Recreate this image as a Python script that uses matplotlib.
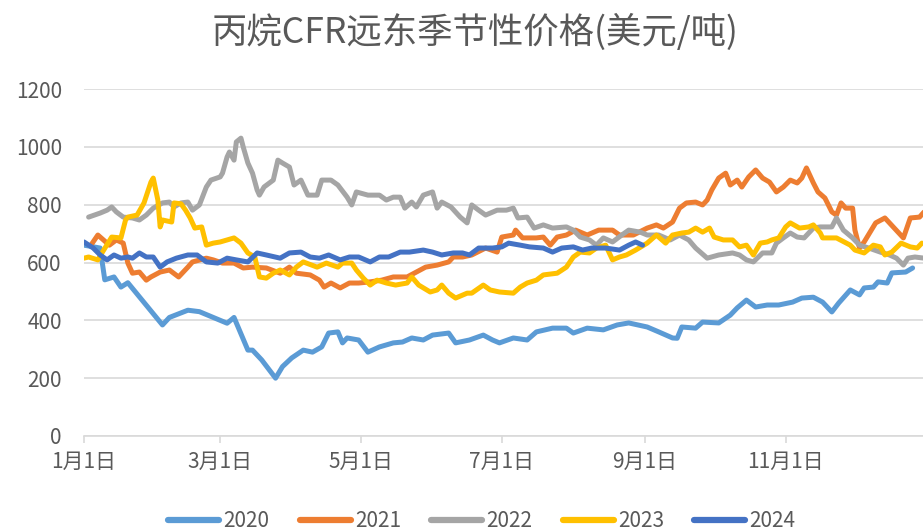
import matplotlib
matplotlib.use('Agg')
import matplotlib.pyplot as plt

plt.rcParams['font.family'] = ['Noto Sans CJK SC', 'DejaVu Sans']

# day of year / price (USD per tonne)
days_2020 = [0, 7, 9, 13, 16, 19, 34, 37, 45, 50, 56, 62, 65, 71, 73, 77, 83, 86, 90, 95,
             99, 103, 106, 110, 112, 114, 119, 123, 128, 134, 138, 142, 147, 151, 158, 161,
             167, 173, 177, 180, 186, 192, 196, 203, 209, 212, 218, 225, 231, 236, 244, 249,
             255, 257, 259, 265, 268, 275, 280, 283, 287, 291, 296, 301, 307, 311, 316, 320,
             324, 327, 332, 336, 338, 342, 344, 348, 350, 356, 359]
price_2020 = [660, 650, 540, 550, 515, 530, 384, 410, 435, 430, 410, 390, 410, 297, 297, 263,
              200, 240, 270, 297, 290, 308, 356, 360, 322, 339, 332, 290, 308, 322, 325, 339,
              332, 349, 356, 322, 332, 349, 332, 322, 339, 332, 360, 373, 373, 356, 373, 367,
              384, 391, 377, 360, 339, 338, 377, 373, 394, 391, 418, 443, 470, 446, 453, 453,
              463, 477, 480, 463, 429, 460, 505, 488, 512, 515, 533, 529, 564, 567, 581]

days_2021 = [3, 6, 11, 14, 17, 19, 21, 24, 27, 29, 33, 37, 41, 45, 47, 53, 56, 60, 65, 69,
             73, 79, 85, 89, 92, 98, 102, 104, 107, 111, 115, 119, 124, 129, 134, 140, 144,
             148, 153, 158, 160, 164, 168, 174, 179, 181, 186, 187, 190, 196, 199, 202, 205,
             209, 213, 218, 223, 229, 232, 238, 244, 248, 251, 255, 258, 261, 265, 268, 270,
             272, 275, 278, 280, 283, 285, 288, 291, 294, 297, 300, 303, 306, 309, 311, 313,
             316, 318, 321, 324, 326, 328, 330, 333, 334, 336, 338, 343, 347, 355, 358, 362, 364]
price_2021 = [660, 695, 660, 678, 667, 598, 563, 567, 539, 550, 567, 574, 550, 584, 602, 615,
              609, 598, 598, 581, 584, 581, 563, 584, 563, 557, 539, 515, 529, 512, 529, 529,
              533, 539, 550, 550, 567, 584, 591, 602, 619, 619, 626, 650, 636, 688, 695, 712,
              685, 685, 688, 660, 688, 695, 712, 695, 712, 712, 695, 695, 719, 730, 719, 740,
              788, 806, 809, 799, 816, 851, 892, 909, 868, 885, 861, 896, 920, 892, 878, 844,
              861, 885, 875, 892, 927, 875, 844, 823, 775, 764, 806, 788, 788, 712, 650, 671,
              737, 754, 685, 754, 757, 775]

days_2022 = [2, 7, 10, 12, 14, 17, 21, 24, 27, 30, 34, 37, 39, 42, 45, 47, 50, 53, 55, 59,
             60, 62, 63, 65, 66, 68, 69, 71, 73, 75, 76, 78, 82, 84, 86, 89, 91, 94, 97, 101,
             103, 107, 110, 114, 116, 118, 123, 128, 131, 134, 137, 139, 142, 144, 147, 151,
             153, 155, 159, 163, 166, 168, 171, 174, 179, 183, 186, 188, 192, 195, 199, 203,
             209, 212, 215, 219, 222, 225, 229, 233, 236, 241, 244, 249, 254, 258, 262, 265,
             270, 275, 281, 284, 287, 290, 294, 298, 300, 303, 306, 309, 312, 316, 319, 324,
             326, 329, 333, 336, 340, 345, 349, 352, 355, 357, 360, 364]
price_2022 = [757, 771, 781, 792, 775, 757, 754, 747, 764, 788, 806, 809, 792, 806, 809, 781,
              799, 861, 885, 896, 909, 965, 982, 954, 1017, 1030, 999, 944, 909, 851, 833, 861,
              885, 954, 944, 930, 868, 885, 833, 833, 885, 885, 868, 826, 799, 844, 833, 833,
              816, 826, 826, 788, 809, 792, 833, 844, 788, 809, 792, 757, 737, 799, 781, 764,
              781, 781, 788, 754, 757, 719, 730, 719, 723, 712, 688, 678, 660, 685, 671, 695,
              712, 705, 695, 695, 678, 695, 678, 650, 615, 626, 633, 626, 609, 602, 633, 633,
              667, 685, 702, 688, 685, 719, 723, 723, 754, 712, 685, 660, 650, 636, 626, 615,
              591, 615, 619, 615]

days_2023 = [0, 2, 6, 8, 12, 16, 18, 19, 23, 26, 29, 30, 32, 33, 34, 38, 39, 42, 44, 46,
             48, 51, 53, 56, 59, 62, 65, 68, 71, 74, 76, 79, 82, 85, 89, 92, 95, 101, 105,
             110, 112, 116, 118, 121, 124, 127, 131, 135, 140, 142, 145, 150, 153, 155, 158,
             161, 166, 168, 173, 176, 180, 186, 189, 192, 196, 199, 205, 209, 212, 215, 219,
             222, 226, 229, 232, 235, 239, 244, 248, 252, 255, 259, 262, 265, 268, 271, 273,
             277, 281, 284, 287, 290, 293, 296, 298, 301, 304, 306, 310, 314, 316, 319, 320,
             326, 332, 334, 338, 342, 345, 347, 350, 354, 358, 361, 363]
price_2023 = [615, 619, 609, 636, 688, 685, 747, 757, 764, 806, 878, 892, 816, 723, 747, 740,
              806, 803, 781, 754, 719, 723, 660, 667, 671, 678, 685, 667, 633, 619, 550, 546,
              563, 574, 557, 584, 602, 584, 598, 584, 598, 598, 574, 546, 522, 539, 529, 522,
              529, 550, 522, 498, 505, 522, 494, 477, 494, 494, 522, 505, 498, 494, 515, 529,
              539, 557, 563, 584, 619, 636, 633, 650, 660, 609, 619, 626, 643, 667, 695, 667,
              695, 702, 705, 719, 705, 719, 688, 678, 678, 654, 660, 626, 667, 671, 678, 685,
              723, 737, 719, 723, 730, 702, 685, 685, 660, 643, 633, 660, 654, 626, 636, 667,
              654, 650, 667]

days_2024 = [0, 4, 7, 10, 13, 16, 19, 21, 24, 27, 30, 33, 36, 40, 45, 49, 53, 58, 62, 66,
             71, 75, 79, 85, 89, 94, 98, 102, 106, 111, 115, 119, 124, 128, 132, 137, 141,
             147, 151, 155, 160, 164, 167, 171, 177, 181, 184, 189, 193, 199, 203, 207, 212,
             216, 220, 226, 232, 236, 239, 242]
price_2024 = [671, 650, 626, 609, 626, 615, 619, 615, 633, 619, 619, 584, 602, 615, 626, 626,
              602, 598, 615, 609, 602, 633, 626, 615, 633, 636, 619, 615, 626, 609, 619, 619,
              602, 619, 619, 636, 636, 643, 636, 626, 633, 633, 626, 650, 650, 654, 667, 660,
              654, 650, 636, 650, 654, 643, 650, 650, 643, 660, 671, 660]

years = ['2020', '2021', '2022', '2023', '2024']
colors = ['#5B9BD5', '#ED7D31', '#A5A5A5', '#FFC000', '#4472C4']
series = [(days_2020, price_2020), (days_2021, price_2021), (days_2022, price_2022),
          (days_2023, price_2023), (days_2024, price_2024)]

tick_days = [0, 59, 120, 181, 243, 304]
tick_labels = ['1月1日', '3月1日', '5月1日', '7月1日', '9月1日', '11月1日']

fig = plt.figure(figsize=(9.23, 5.32), dpi=100)
ax = fig.add_axes([84 / 923, 1 - 436 / 532, 1 - 84 / 923, 347 / 532])

for (d, p), name, c in zip(series, years, colors):
    ax.plot(d, p, color=c, lw=3.6, label=name,
            solid_joinstyle='round', solid_capstyle='round')

ax.set_xlim(0, 363.5)
ax.set_ylim(0, 1200)
ax.set_yticks(range(0, 1201, 200))
ax.set_xticks(tick_days)
ax.set_xticklabels(tick_labels)

ax.grid(axis='y', color='#D9D9D9', lw=1.2)
ax.set_axisbelow(True)
for s in ['top', 'right', 'left']:
    ax.spines[s].set_visible(False)
ax.spines['bottom'].set_color('#D9D9D9')
ax.spines['bottom'].set_linewidth(1.2)

ax.tick_params(axis='y', length=0, pad=16, labelsize=15, labelcolor='#595959')
ax.tick_params(axis='x', length=5, width=1.2, color='#D9D9D9', pad=6,
               labelsize=15, labelcolor='#595959')

fig.text(0.515, 0.94, '丙烷CFR远东季节性价格(美元/吨)', ha='center', va='center',
         fontsize=25.5, color='#595959')

leg = fig.legend(loc='center', bbox_to_anchor=(0.522, 0.02), ncol=5, frameon=False,
                 fontsize=15, handlelength=2.45, handletextpad=0.2, columnspacing=1.45,
                 labelcolor='#595959')
for h in leg.get_lines():
    h.set_linewidth(4.5)
    h.set_solid_capstyle('round')

fig.savefig('out.png', dpi=100)
